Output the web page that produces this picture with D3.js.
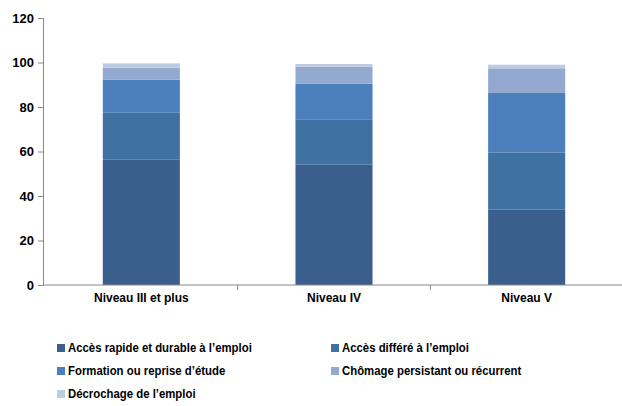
<!DOCTYPE html>
<html>
<head>
<meta charset="utf-8">
<script src="https://cdn.jsdelivr.net/npm/d3@7"></script>
<style>
  body { margin: 0; background: #fff; }
  svg text { font-family: "Liberation Sans", Arial, sans-serif; font-weight: bold; fill: #000; }
  .legend text { font-size: 13px; }
</style>
</head>
<body>
<div id="chart"></div>
<script>
var categories = ['Niveau III et plus', 'Niveau IV', 'Niveau V'];
var seriesNames = [
   'Accès rapide et durable à l\u2019emploi',
   'Accès différé à l\u2019emploi',
   'Formation ou reprise d\u2019étude',
   'Chômage persistant ou récurrent',
   'Décrochage de l\u2019emploi'
];
var rapide     = [56.3, 54.2, 34.0];
var differe    = [21.1, 20.3, 25.6];
var formation  = [14.9, 16.0, 26.7];
var chomage    = [5.4, 7.6, 11.1];
var decrochage = [1.9, 1.2, 1.6];
var yTicks = [0, 20, 40, 60, 80, 100, 120];
var colors = ['#3b5f8d', '#4071a3', '#4b80bd', '#93a9d0', '#bccae2'];

var width = 622, height = 406;
var svg = d3.select('#chart').append('svg')
   .attr('width', width)
   .attr('height', height);

// rows for d3.stack
var keys = ['rapide', 'differe', 'formation', 'chomage', 'decrochage'];
var rows = categories.map(function (c, i) {
   return {cat: c, rapide: rapide[i], differe: differe[i], formation: formation[i],
           chomage: chomage[i], decrochage: decrochage[i]};
});
var stacked = d3.stack().keys(keys)(rows);

var x = d3.scaleBand().domain(categories).range([45, 623]).paddingInner(0.6).paddingOuter(0.3);
var y = d3.scaleLinear().domain([0, 120]).range([285, 18]);

// bars
svg.selectAll('g.layer').data(stacked)
   .enter().append('g')
   .attr('class', 'layer')
   .attr('fill', function (d, i) { return colors[i]; })
   .selectAll('rect').data(function (d) { return d; })
   .enter().append('rect')
   .attr('x', function (d) { return x(d.data.cat); })
   .attr('width', x.bandwidth())
   .attr('y', function (d) { return y(d[1]); })
   .attr('height', function (d) { return y(d[0]) - y(d[1]); });

// y axis
var yAxis = svg.append('g')
   .attr('transform', 'translate(43,0)')
   .call(d3.axisLeft(y).tickValues(yTicks).tickSize(5).tickPadding(4));
yAxis.selectAll('text').style('font-size', '13px');

// x axis, ticks between categories
var step = x.step();
var xAxisG = svg.append('g').attr('transform', 'translate(0,285)');
xAxisG.append('line')
   .attr('x1', 43).attr('x2', 622).attr('y1', 0).attr('y2', 0);
xAxisG.selectAll('line.tk').data(categories.slice(1))
   .enter().append('line')
   .attr('class', 'tk')
   .attr('x1', function (d) { return x(d) - step * 0.3; })
   .attr('x2', function (d) { return x(d) - step * 0.3; })
   .attr('y1', 0).attr('y2', 5);
xAxisG.selectAll('text').data(categories)
   .enter().append('text')
   .attr('x', function (d) { return x(d) + x.bandwidth() / 2; })
   .attr('y', 17)
   .attr('text-anchor', 'middle')
   .style('font-size', '12px')
   .text(function (d) { return d; });

svg.selectAll('.domain, .tick line, g line').attr('stroke', '#888');

// legend
var legend = svg.append('g').attr('class', 'legend');
var items = legend.selectAll('g').data(seriesNames)
   .enter().append('g')
   .attr('transform', function (d, i) {
      return 'translate(' + (i % 2 === 0 ? 57 : 331) + ',' + (352 + Math.floor(i / 2) * 23) + ')';
   });
items.append('rect')
   .attr('x', 0).attr('y', -8).attr('width', 8).attr('height', 8)
   .attr('fill', function (d, i) { return colors[i]; });
items.append('text')
   .attr('transform', 'translate(11,0) scale(0.875,1)')
   .text(function (d) { return d; });
</script>
</body>
</html>
